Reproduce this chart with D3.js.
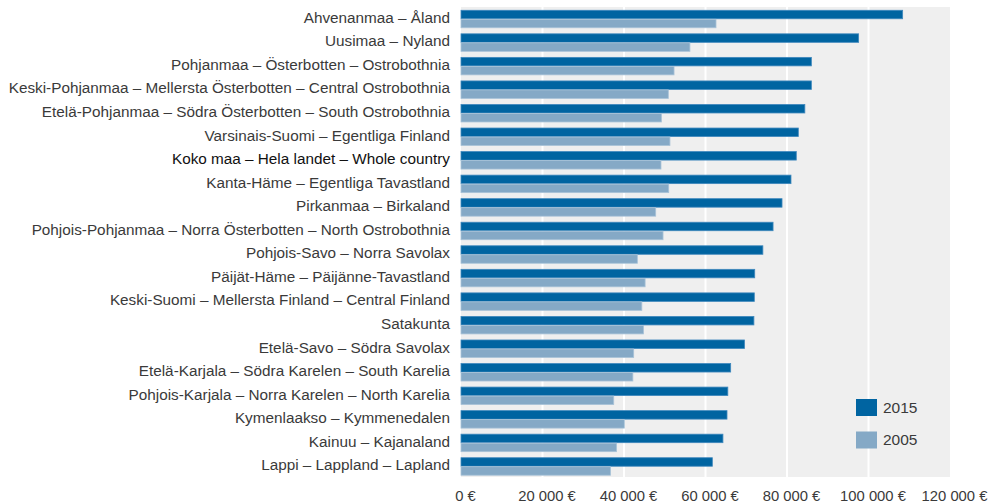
<!DOCTYPE html>
<html><head><meta charset="utf-8">
<script src="https://cdn.jsdelivr.net/npm/d3@7"></script>
<style>
html,body{margin:0;padding:0;background:#fff;}
svg{display:block;font-family:"Liberation Sans",Arial,sans-serif;}
</style></head>
<body><svg id="c" width="992" height="504"></svg>
<script>
const regions = [
 "Ahvenanmaa – Åland",
 "Uusimaa – Nyland",
 "Pohjanmaa – Österbotten – Ostrobothnia",
 "Keski-Pohjanmaa – Mellersta Österbotten – Central Ostrobothnia",
 "Etelä-Pohjanmaa – Södra Österbotten – South Ostrobothnia",
 "Varsinais-Suomi – Egentliga Finland",
 "Koko maa – Hela landet – Whole country",
 "Kanta-Häme – Egentliga Tavastland",
 "Pirkanmaa – Birkaland",
 "Pohjois-Pohjanmaa – Norra Österbotten – North Ostrobothnia",
 "Pohjois-Savo – Norra Savolax",
 "Päijät-Häme – Päijänne-Tavastland",
 "Keski-Suomi – Mellersta Finland – Central Finland",
 "Satakunta",
 "Etelä-Savo – Södra Savolax",
 "Etelä-Karjala – Södra Karelen – South Karelia",
 "Pohjois-Karjala – Norra Karelen – North Karelia",
 "Kymenlaakso – Kymmenedalen",
 "Kainuu – Kajanaland",
 "Lappi – Lappland – Lapland"
];
const values2015 = [108500, 97700, 86100, 86100, 84500, 82900, 82400, 81100, 78900, 76700,
                    74200, 72200, 72100, 72000, 69700, 66300, 65600, 65400, 64400, 61800];
const values2005 = [62700, 56300, 52400, 51000, 49300, 51400, 49200, 51100, 47900, 49700,
                    43400, 45300, 44500, 44900, 42500, 42300, 37600, 40200, 38300, 36800];
const seriesNames = ["2015", "2005"];
const tickValues = [0, 20000, 40000, 60000, 80000, 100000, 120000];
const highlight = "Koko maa – Hela landet – Whole country";

const colors = {"2015": "#0064a1", "2005": "#85a9c6"};
const strokes = {"2015": "#3f88bd", "2005": "#a9c3d8"};

const svg = d3.select("#c");
const pLeft = 461, pRight = 950, pTop = 7, pBottom = 478;

const x = d3.scaleLinear().domain([0, 120000]).range([pLeft, pRight]);
const y = d3.scaleBand().domain(regions).range([pTop, pBottom]).paddingInner(0.236).paddingOuter(0.118);
const ySub = d3.scaleBand().domain(seriesNames).range([0, y.bandwidth()]);

// background
svg.append("rect").attr("x", pLeft).attr("y", pTop).attr("width", pRight - pLeft).attr("height", pBottom - pTop - 1)
  .attr("fill", "#efefef");

// gridlines
svg.append("g").selectAll("line").data(tickValues.slice(1, -1)).join("line")
  .attr("x1", d => x(d)).attr("x2", d => x(d)).attr("y1", pTop).attr("y2", pBottom - 1)
  .attr("stroke", "#fff").attr("stroke-width", 2);

// bars
const data = regions.map((r, i) => ({region: r, vals: [{s: "2015", v: values2015[i]}, {s: "2005", v: values2005[i]}]}));
const g = svg.append("g").selectAll("g").data(data).join("g")
  .attr("transform", d => `translate(0,${y(d.region)})`);
g.selectAll("rect").data(d => d.vals).join("rect")
  .attr("x", x(0))
  .attr("y", d => ySub(d.s) + 0.5)
  .attr("width", d => x(d.v) - x(0) - 0.5)
  .attr("height", ySub.bandwidth() - 0.5)
  .attr("fill", d => colors[d.s])
  .attr("stroke", d => strokes[d.s]).attr("stroke-width", 0.8);

// category labels
svg.append("g").selectAll("text").data(regions).join("text")
  .attr("x", 450)
  .attr("y", d => y(d) + y.bandwidth() / 2 - 1)
  .attr("dy", "0.33em")
  .attr("text-anchor", "end")
  .attr("font-size", 15.3)
  .attr("fill", d => d === highlight ? "#111" : "#3a3a3a")
  .text(d => d);

// x axis
const xAxis = d3.axisBottom(x).tickValues(tickValues).tickSize(0)
  .tickFormat(d => d3.format(",")(d).replace(/,/g, "\u00a0") + "\u00a0€");
const ax = svg.append("g").attr("transform", `translate(4,${pBottom + 9})`).call(xAxis);
ax.select(".domain").remove();
ax.selectAll("text").attr("font-size", 14.8).attr("fill", "#3a3a3a")
  .attr("font-family", "Liberation Sans, Arial, sans-serif");

// legend
const lg = svg.append("g").selectAll("g").data(seriesNames).join("g")
  .attr("transform", (d, i) => `translate(856,${399 + i * 32.5})`);
lg.append("rect").attr("width", 21).attr("height", 17).attr("fill", d => colors[d]);
lg.append("text").attr("x", 27).attr("y", 8.5).attr("dy", "0.35em")
  .attr("font-size", 15.5).attr("fill", "#3a3a3a").text(d => d);
</script></body></html>
